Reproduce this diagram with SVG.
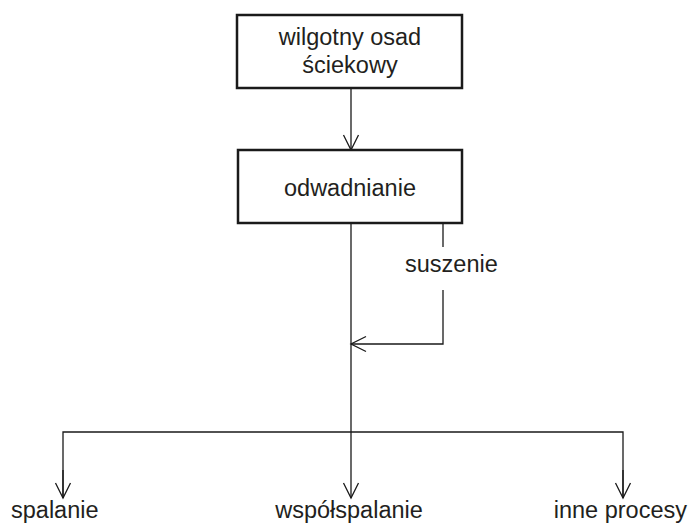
<svg xmlns="http://www.w3.org/2000/svg" width="694" height="523" viewBox="0 0 694 523">
<defs>
<style>
.box{fill:#fff;stroke:#1a1a1a;stroke-width:2.5}
.ln{fill:none;stroke:#1a1a1a;stroke-width:1.3}
.t{font-family:"Liberation Sans",Arial,sans-serif;font-size:23.5px;fill:#231f20}
</style>
<marker id="ah" markerWidth="18" markerHeight="18" viewBox="-16 -9 18 18" refX="0" refY="0" orient="auto" markerUnits="userSpaceOnUse">
<path d="M-15,-7.5 L0,0 L-15,7.5" fill="none" stroke="#1a1a1a" stroke-width="1.3"/>
</marker>
</defs>
<rect width="694" height="523" fill="#fff"/>
<g id="connectors">
<line class="ln" x1="351" y1="88" x2="351" y2="150" marker-end="url(#ah)"/>
<line class="ln" x1="351" y1="223" x2="351" y2="498" marker-end="url(#ah)"/>
<polyline class="ln" points="443,223 443,247"/>
<polyline class="ln" points="443,290 443,344 351,344" marker-end="url(#ah)"/>
<polyline class="ln" points="63,498 63,432 623,432 623,498"/>
<line class="ln" x1="63" y1="470" x2="63" y2="498" marker-end="url(#ah)"/>
<line class="ln" x1="623" y1="470" x2="623" y2="498" marker-end="url(#ah)"/>
<text class="t" x="405" y="272">suszenie</text>
</g>
<g id="n1">
<rect class="box" x="237" y="15" width="225" height="73"/>
<text class="t" x="350" y="45" text-anchor="middle">wilgotny osad</text>
<text class="t" x="350" y="73" text-anchor="middle">ściekowy</text>
</g>
<g id="n2">
<rect class="box" x="238" y="150" width="224" height="73"/>
<text class="t" x="350" y="196" text-anchor="middle">odwadnianie</text>
</g>
<g id="n3"><text class="t" x="11" y="518">spalanie</text></g>
<g id="n4"><text class="t" x="349" y="518" text-anchor="middle">współspalanie</text></g>
<g id="n5"><text class="t" x="687" y="518" text-anchor="end">inne procesy</text></g>
</svg>
